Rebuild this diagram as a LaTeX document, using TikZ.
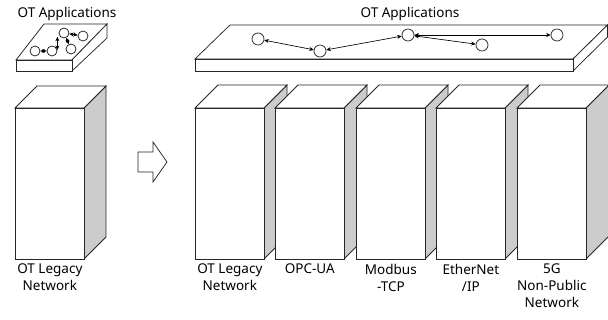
\documentclass[tikz,border=0pt]{standalone}
\usepackage{fontspec}
\setmainfont{Noto Sans}
\usetikzlibrary{arrows.meta}
\begin{document}
\begin{tikzpicture}[x=1pt,y=-1pt,
  edge/.style={draw=black!85,line width=0.75pt},
  sidef/.style={edge,fill=black!20},
  whitef/.style={edge,fill=white},
  frontbox/.style={edge,fill=white,rectangle,inner sep=0pt,anchor=north west},
  appnode/.style={circle,draw=black!85,line width=0.75pt,fill=white,inner sep=0pt,minimum size=#1},
  link/.style={line width=0.65pt,{Stealth[length=4.5pt,width=4pt]}-{Stealth[length=4.5pt,width=4pt]}},
  lbl/.style={align=center,anchor=north,inner sep=0pt,font=\fontsize{13.5}{17}\selectfont},
  ttl/.style={inner sep=0pt,font=\fontsize{13.5}{15}\selectfont}]
\useasboundingbox (0,0) rectangle (608,320);
% ---------- left small slab ----------
\node[ttl] (ttlL) at (67,14) {OT Applications};
\draw[whitef] (16,60) -- (44,24) -- (107,24) -- (72,60) -- cycle;
\draw[whitef] (72,60) -- (107,24) -- (107,38) -- (72,71) -- cycle;
\node[frontbox,minimum width=56pt,minimum height=11pt] (slabL) at (16,60) {};
\node[appnode=10pt] (a1) at (35,51) {};
\node[appnode=10pt] (a2) at (52,51) {};
\node[appnode=10pt] (a3) at (64,33) {};
\node[appnode=10pt] (a4) at (83,36) {};
\node[appnode=10pt] (a5) at (71,49) {};
\draw[link] (a1) -- (a2);
\draw[link] (a2.east) ++(0,-1) coordinate (b2) (b2) -- (b2 |- a3.south west);
\draw[link] (a3) -- (a4);
\draw[link] (a3) -- (a5);
% ---------- left cube ----------
\draw[sidef] (84,108) -- (106,86) -- (106,237) -- (84,259) -- cycle;
\draw[whitef] (15,108) -- (37,86) -- (106,86) -- (84,108) -- cycle;
\node[frontbox,minimum width=69pt,minimum height=151pt] (cubeL) at (15,108) {};
\node[lbl] (labL) at (cubeL.south |- 0,264) {OT Legacy\\Network};
% ---------- hollow arrow ----------
\draw[whitef] (138,152) -- (153,152) -- (153,142) -- (167,162) -- (153,182) -- (153,172) -- (138,172) -- cycle;
\node[inner sep=0pt] (arr) at (152,162) {};
% ---------- big slab ----------
\node[ttl] (ttlR) at (410,14) {OT Applications};
\draw[whitef] (195,59) -- (230,25) -- (607.5,25) -- (573,59) -- cycle;
\draw[whitef] (573,59) -- (607.5,25) -- (607.5,37) -- (573,71) -- cycle;
\node[frontbox,minimum width=378pt,minimum height=12pt] (slabR) at (195,59) {};
\node[appnode=12pt] (n1) at (258,39) {};
\node[appnode=12pt] (n2) at (320,51) {};
\node[appnode=12pt] (n3) at (408,35) {};
\node[appnode=12pt] (n4) at (482,45) {};
\node[appnode=12pt] (n5) at (557,35) {};
\draw[link] (n1) -- (n2);
\draw[link] (n2) -- (n3);
\draw[link] (n3) -- (n4);
\draw[link] (n3) -- (n5);
% ---------- right cubes ----------
\foreach \x/\nm/\txt in {195/c1/{OT Legacy\\Network},275/c2/{OPC-UA},356/c3/{Modbus\\-TCP},436/c4/{EtherNet\\/IP},517/c5/{5G\\Non-Public\\Network}}{
  \draw[sidef] (\x+69,108) -- (\x+92,85) -- (\x+92,236) -- (\x+69,259) -- cycle;
  \draw[whitef] (\x,108) -- (\x+23,85) -- (\x+92,85) -- (\x+69,108) -- cycle;
  \node[frontbox,minimum width=69pt,minimum height=151pt] (\nm) at (\x,108) {};
  \node[lbl] (\nm lab) at (\nm.south |- 0,264) {\txt};
}
\end{tikzpicture}
\end{document}
